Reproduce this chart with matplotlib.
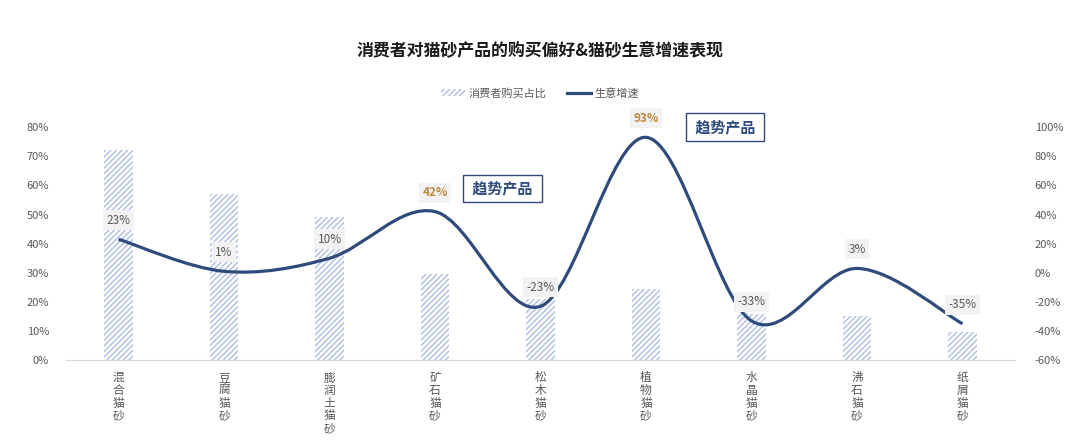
import numpy as np
import matplotlib.pyplot as plt
from matplotlib.path import Path
from matplotlib.patches import PathPatch, Patch
from matplotlib.lines import Line2D

plt.rcParams['font.family'] = ['Noto Sans CJK SC', 'DejaVu Sans']
plt.rcParams['hatch.linewidth'] = 1.0

# 数据
categories = ['混合猫砂', '豆腐猫砂', '膨润土猫砂', '矿石猫砂', '松木猫砂',
              '植物猫砂', '水晶猫砂', '沸石猫砂', '纸屑猫砂']
share = [72, 57, 49, 29.5, 21, 24.5, 16, 15, 9.5]          # 消费者购买占比 %
growth = [23, 1, 10, 42, -23, 93, -33, 3, -35]              # 生意增速 %
highlight = [3, 5]                                          # 趋势产品

bar_color = '#aebde4'
line_color = '#2f4b7c'
gold = '#c08a3e'
gray = '#595959'

fig = plt.figure(figsize=(10.8, 4.43), dpi=100)
ax = fig.add_axes([0.061, 0.187, 0.879, 0.526])
ax2 = ax.twinx()

x = np.arange(len(categories))
ax.bar(x, share, width=0.27, facecolor='white', edgecolor=bar_color,
       hatch='//////', linewidth=0, zorder=1)
ax.set_xlim(-0.5, len(categories) - 0.5)
ax.set_ylim(0, 80)
ax.set_yticks(np.arange(0, 81, 10))
ax.set_yticklabels([f'{v}%' for v in range(0, 81, 10)])

# 平滑曲线 (Catmull-Rom -> Bezier)
pts = np.column_stack([x, growth]).astype(float)
ext = np.vstack([pts[0], pts, pts[-1]])
verts = [tuple(pts[0])]
codes = [Path.MOVETO]
for i in range(len(pts) - 1):
    p0, p1, p2, p3 = ext[i], ext[i + 1], ext[i + 2], ext[i + 3]
    c1 = p1 + (p2 - p0) / 6
    c2 = p2 - (p3 - p1) / 6
    verts += [tuple(c1), tuple(c2), tuple(p2)]
    codes += [Path.CURVE4] * 3
ax2.add_patch(PathPatch(Path(verts, codes), facecolor='none',
                        edgecolor=line_color, lw=2.3, capstyle='butt', zorder=3))
ax2.set_ylim(-60, 100)
ax2.set_yticks(np.arange(-60, 101, 20))
ax2.set_yticklabels([f'{v}%' for v in range(-60, 101, 20)])

# 数据标签
box_pos = {3: (3.64, 58), 5: (5.75, 100)}
for i, v in enumerate(growth):
    hl = i in highlight
    ax2.annotate(f'{v}%', (i, v), xytext=(0, 9), textcoords='offset points',
                 ha='center', va='bottom', fontsize=8.5,
                 color=gold if hl else gray, fontweight='bold' if hl else 'normal',
                 bbox=dict(boxstyle='square,pad=0.3', fc='#f2f2f2', ec='none'),
                 zorder=5)
    if hl:
        bx, by = box_pos[i]
        ax2.text(bx, by, ' 趋势产品 ', ha='center', va='center', fontsize=10.8,
                 fontweight='bold', color=line_color,
                 bbox=dict(boxstyle='square,pad=0.38', fc='white', ec=line_color, lw=1),
                 zorder=5)

ax.set_xticks(x)
ax.set_xticklabels(['\n'.join(c) for c in categories], linespacing=0.97,
                   va='top')
for a in (ax, ax2):
    for s in ('top', 'left', 'right', 'bottom'):
        a.spines[s].set_visible(False)
    a.tick_params(length=0, colors=gray, labelsize=8)
ax.spines['bottom'].set_visible(True)
ax.spines['bottom'].set_color('#d9d9d9')
ax.tick_params(axis='y', pad=12)
ax.tick_params(axis='x', pad=8, labelsize=8.5)
ax2.tick_params(axis='y', pad=14)

fig.text(0.5, 0.885, '消费者对猫砂产品的购买偏好&猫砂生意增速表现', ha='center',
         va='center', fontsize=12.2, fontweight='bold', color='#1a1a1a')

handles = [Patch(facecolor='white', edgecolor=bar_color, hatch='//////', linewidth=0),
           Line2D([0], [0], color=line_color, lw=2.3)]
fig.legend(handles, ['消费者购买占比', '生意增速'], loc='center',
           bbox_to_anchor=(0.5, 0.79), ncol=2, frameon=False, fontsize=8,
           labelcolor=gray, handlelength=2.2, handletextpad=0.3, columnspacing=1.8)

fig.savefig('out.png', dpi=100)
